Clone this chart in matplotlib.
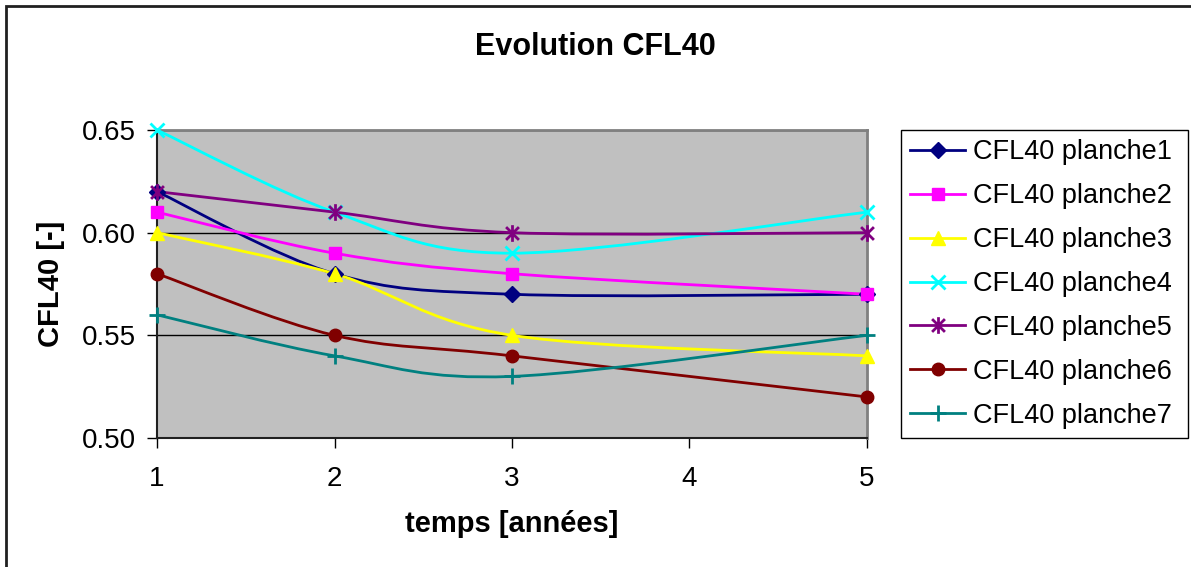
import matplotlib
matplotlib.use("Agg")
import matplotlib.pyplot as plt
import numpy as np
from matplotlib.lines import Line2D
from matplotlib.patches import PathPatch, Rectangle
from matplotlib.path import Path

plt.rcParams["font.family"] = ["Liberation Sans", "DejaVu Sans"]

# data
annees = [1, 2, 3, 5]
planche1 = [0.62, 0.58, 0.57, 0.57]
planche2 = [0.61, 0.59, 0.58, 0.57]
planche3 = [0.60, 0.58, 0.55, 0.54]
planche4 = [0.65, 0.61, 0.59, 0.61]
planche5 = [0.62, 0.61, 0.60, 0.60]
planche6 = [0.58, 0.55, 0.54, 0.52]
planche7 = [0.56, 0.54, 0.53, 0.55]

labels = ["CFL40 planche%d" % i for i in range(1, 8)]
series = [planche1, planche2, planche3, planche4, planche5, planche6, planche7]
colors = ["#000080", "#FF00FF", "#FFFF00", "#00FFFF", "#800080", "#800000", "#008080"]

# excel-like asterisk marker (x with a vertical bar)
star = Path(
    [(-1, -1), (1, 1), (-1, 1), (1, -1), (0, -1.3), (0, 1.3)],
    [Path.MOVETO, Path.LINETO, Path.MOVETO, Path.LINETO, Path.MOVETO, Path.LINETO],
)
markers = ["D", "s", "^", "x", star, "o", "+"]
msizes = [8, 8, 10, 10, 12, 9, 11]


def smooth_path(x, y):
    # Catmull-Rom style bezier segments, like Excel's smoothed lines
    pts = np.column_stack([x, y]).astype(float)
    ext = np.vstack([pts[0], pts, pts[-1]])
    verts = [pts[0]]
    codes = [Path.MOVETO]
    for i in range(len(pts) - 1):
        p0, p1, p2, p3 = ext[i], ext[i + 1], ext[i + 2], ext[i + 3]
        verts += [p1 + (p2 - p0) / 6, p2 - (p3 - p1) / 6, p2]
        codes += [Path.CURVE4] * 3
    return Path(verts, codes)


fig = plt.figure(figsize=(11.91, 5.67), dpi=100)
ax = fig.add_axes([157 / 1191, 1 - 438 / 567, 710 / 1191, 308 / 567])
ax.set_facecolor("#C0C0C0")

handles = []
for y, c, m, ms, lab in zip(series, colors, markers, msizes, labels):
    mew = 2 if (m is star or m in ("x", "+")) else 1
    ax.add_patch(PathPatch(smooth_path(annees, y), fill=False, edgecolor=c, lw=2, zorder=3, clip_on=False))
    ax.plot(annees, y, linestyle="none", marker=m, color=c, ms=ms, mew=mew, zorder=4, clip_on=False)
    handles.append(Line2D([], [], color=c, lw=2, marker=m, ms=ms, mew=mew))

ax.set_xlim(1, 5)
ax.set_ylim(0.50, 0.65)
ax.set_xticks([1, 2, 3, 4, 5])
ax.set_yticks([0.50, 0.55, 0.60, 0.65])
ax.set_yticklabels(["0.50", "0.55", "0.60", "0.65"])
ax.yaxis.grid(True, color="black", lw=1)
ax.set_axisbelow(True)
ax.tick_params(axis="both", labelsize=20, direction="out", length=7, width=1, color="black")
ax.tick_params(axis="x", pad=13)
ax.tick_params(axis="y", pad=8)
for s in ("top", "right"):
    ax.spines[s].set_color("#808080")
    ax.spines[s].set_linewidth(2)
for s in ("left", "bottom"):
    ax.spines[s].set_color("#202020")
    ax.spines[s].set_linewidth(1.5)

ax.set_xlabel("temps [années]", fontsize=21, fontweight="bold", labelpad=13)
ax.set_ylabel("CFL40 [-]", fontsize=21, fontweight="bold", labelpad=12)
fig.text(0.5, 1 - 47 / 567, "Evolution CFL40", ha="center", va="center", fontsize=22, fontweight="bold")

leg = fig.legend(handles, labels, loc="upper left",
                 bbox_to_anchor=(901 / 1191, 1 - 438 / 567, 287 / 1191, 308 / 567),
                 mode="expand", fontsize=19.5, frameon=True, fancybox=False, framealpha=1,
                 edgecolor="black", handlelength=2.0, handletextpad=0.3, labelspacing=0.66,
                 borderpad=0.35, borderaxespad=0)
leg.get_frame().set_linewidth(1)

# outer chart border
fig.patches.append(Rectangle((6 / 1191, -0.1), 1.2, 1.1 - 6 / 567, transform=fig.transFigure,
                             fill=False, edgecolor="#202020", lw=2))

fig.savefig("out.png", dpi=100)
